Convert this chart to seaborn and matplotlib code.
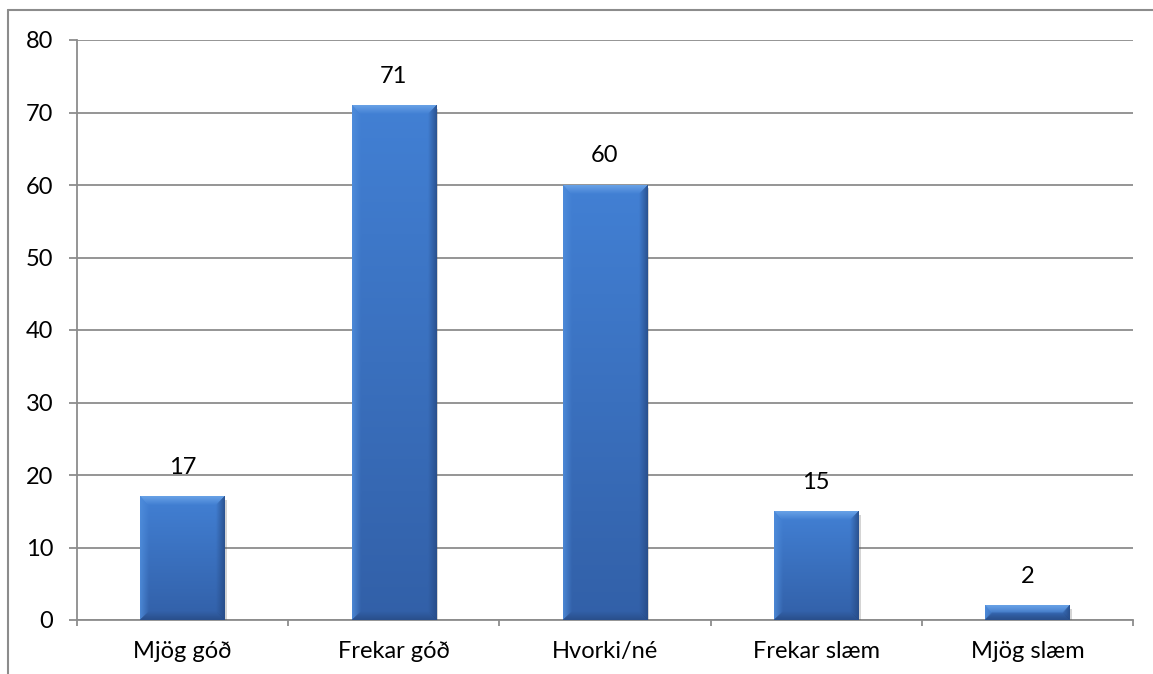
import numpy as np
import pandas as pd
import seaborn as sns
import matplotlib.pyplot as plt
from matplotlib.lines import Line2D
import matplotlib.patheffects as pe

categories = ["Mjög góð", "Frekar góð", "Hvorki/né", "Frekar slæm", "Mjög slæm"]
values = [17, 71, 60, 15, 2]
y_ticks = [0, 10, 20, 30, 40, 50, 60, 70, 80]

df = pd.DataFrame({"flokkur": categories, "fjoldi": values})

sns.set_theme(style="white")
plt.rcParams["font.family"] = ["Lato", "DejaVu Sans"]

W, H, DPI = 1153, 674, 100
fig = plt.figure(figsize=(W / DPI, H / DPI), dpi=DPI)
ax = fig.add_axes([77 / W, 54 / H, (1133 - 77) / W, 580 / H])

grid_col = "#8c8c8c"
base_top = np.array([66, 128, 212]) / 255
base_bot = np.array([50, 96, 168]) / 255
FS = 17

sns.barplot(data=df, x="flokkur", y="fjoldi", ax=ax, width=0.4,
            color=base_top, saturation=1, edgecolor="none", zorder=3)

ax.set_ylim(0, 80)
ax.set_xlim(-0.5, len(categories) - 0.5)
ax.set_yticks(y_ticks)
ax.set_yticklabels([str(t) for t in y_ticks])
ax.set_xlabel("")
ax.set_ylabel("")

ax.yaxis.grid(True, color=grid_col, linewidth=1.3, zorder=0)
ax.set_axisbelow(True)
for s in ["top", "right"]:
    ax.spines[s].set_visible(False)
for s in ["left", "bottom"]:
    ax.spines[s].set_color(grid_col)
    ax.spines[s].set_linewidth(1.3)

ax.tick_params(axis="y", which="major", length=6, width=1.3, color=grid_col,
               direction="out", pad=11, labelsize=FS, labelcolor="black", left=True)
ax.tick_params(axis="x", which="major", length=0, pad=15, labelsize=FS,
               labelcolor="black")
ax.set_xticks(np.arange(-0.5, len(categories)), minor=True)
ax.tick_params(axis="x", which="minor", length=4, width=1.3, color=grid_col,
               direction="out", bottom=True)

# Bevelled fill for each bar, sized from the bar patches themselves
px_per_x = (1133 - 77) / len(categories)
px_per_y = 580 / 80
bevel = 9
for patch in ax.patches:
    x0, y0 = patch.get_x(), patch.get_y()
    w, h = patch.get_width(), patch.get_height()
    npx = max(int(round(w * px_per_x)), 2)
    npy = max(int(round(h * px_per_y)), 2)
    yy, xx = np.mgrid[0:npy, 0:npx]
    t = yy / max(npy - 1, 1)
    img = base_top[None, None, :] * (1 - t[..., None]) + base_bot[None, None, :] * t[..., None]
    d_top = yy + 0.5
    d_bot = npy - yy - 0.5
    d_left = xx + 0.5
    d_right = npx - xx - 0.5
    dmin = np.minimum(np.minimum(d_top, d_bot), np.minimum(d_left, d_right))
    inb = dmin < bevel
    top_c = np.array([112, 168, 234]) / 255
    left_c = np.array([80, 142, 220]) / 255
    right_c = np.array([38, 74, 132]) / 255
    bot_c = np.array([40, 76, 134]) / 255
    f = np.clip(1 - dmin / bevel, 0, 1)[..., None] * 0.85
    for dist, col in [(d_top, top_c), (d_left, left_c), (d_right, right_c), (d_bot, bot_c)]:
        m = (inb & (dist == dmin))[..., None]
        img = np.where(m, img * (1 - f) + col * f, img)
    patch.set_path_effects([pe.SimplePatchShadow(offset=(1.5, -2.5), alpha=0.25,
                                                 shadow_rgbFace="#555555"), pe.Normal()])
    ax.imshow(img, extent=(x0, x0 + w, y0, y0 + h), origin="upper",
              aspect="auto", zorder=4, interpolation="bilinear")

ax.set_xlim(-0.5, len(categories) - 0.5)
ax.set_ylim(0, 80)

for i, v in enumerate(values):
    ax.annotate(str(v), xy=(i, v), xytext=(0, 21), textcoords="offset points",
                ha="center", va="center", fontsize=FS, color="black", zorder=5)

# Outer chart frame
fig.add_artist(Line2D([8 / W, 8 / W], [0, 1 - 10 / H], transform=fig.transFigure,
                      color=grid_col, linewidth=1.5))
fig.add_artist(Line2D([8 / W, 1], [1 - 10 / H, 1 - 10 / H], transform=fig.transFigure,
                      color=grid_col, linewidth=1.5))

fig.savefig("out.png", dpi=DPI)
